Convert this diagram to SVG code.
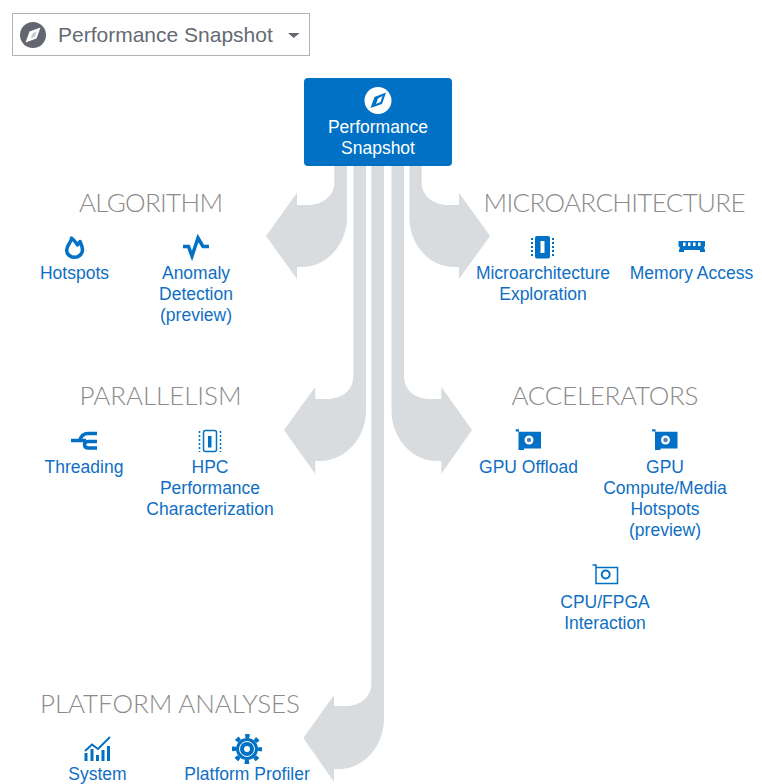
<svg xmlns="http://www.w3.org/2000/svg" width="762" height="784" viewBox="0 0 762 784">
<style>
text{font-family:"Liberation Sans",Arial,sans-serif}
.l{font-size:17.500px;fill:#0f6fc4;text-anchor:middle}
.h{font-family:Lato,"Liberation Sans",sans-serif;font-weight:300;font-size:26px;fill:#8b8b8b;text-anchor:middle}
.a{fill:#d9dcdf}
.i{fill:#0071c5}
.s{fill:none;stroke:#0071c5}
</style>
<defs>
<g id="card"><path class="i" d="M-13.300-10.700H-10V-8.300H12V8.500H-5V10H-10.500V-8.500H-13.300Z"/><circle cx="0" cy="0" r="4.500" fill="#fff"/><circle cx="0" cy="0" r="2.200" fill="#4a86c0"/></g>
</defs>
<rect x="12.500" y="13.500" width="297" height="42" fill="#fff" stroke="#b3b3b3"/>
<g id="dropdown"><circle cx="33" cy="35" r="13" fill="#63666e"/><path d="M40.500 27.500 36.500 38.500 25.500 42.500 29.500 31.500Z" fill="#fff"/><path d="M37 31 32.500 33.500 30.500 39 35 36.500Z" fill="#63666e" opacity=".35"/><text x="58" y="42" font-size="21" fill="#646a73">Performance Snapshot</text><path d="M288 33h11.500l-5.750 5Z" fill="#63666e"/></g>
<g id="connectors">
<path class="a" d="M334.300 166V183C334.300 196 322 205 308 205H297V192.700L266 236 297 279V267H302C328 267 347 243 347 217V166Z"/>
<path class="a" d="M421.700 166V183C421.700 196 434 205 448 205H459V192.700L490 236 459 279V267H454C428 267 409.300 243 409.300 217V166Z"/>
<path class="a" d="M353.300 166V376C353.300 390 342 399 327 399H315.300V386.700L284 430 315.300 474V461H320C346 461 366 437 366 411V166Z"/>
<path class="a" d="M404 166V376C404 390 415 399 430 399H441.300V386.700L472 430 441.300 474V461H437C411 461 391.500 437 391.500 411V166Z"/>
<path class="a" d="M371.300 166V684C371.300 697 360 706 346 706H334V695L303.300 738 334 782V769H339C365 769 384 745 384 719V166Z"/>
</g>
<g id="root"><rect x="304" y="78" width="148" height="88" rx="4" fill="#0071c5"/><circle cx="378" cy="100.500" r="13.500" fill="#fff"/><path d="M386 92.500 382 104 370.500 108 374.500 97Z" fill="#0071c5"/><path d="M382.500 96 378 98.500 376 104 380.500 102Z" fill="#fff"/><text x="378" y="132.500" class="l" style="fill:#fff">Performance</text><text x="378" y="153.500" class="l" style="fill:#fff">Snapshot</text></g>

<g id="algorithm"><text x="151" y="212" class="h" textLength="144">ALGORITHM</text></g>
<g id="hotspots"><path class="s" stroke-width="3.500" stroke-linejoin="round" d="M71.500 238C72 242 67 244 66.700 250C66.500 254 70 257.300 74.500 257.300C79 257.300 82.500 254 82.500 250C82.500 246 81 244 80 241.500L77.500 245C76 242 74 240 71.500 238Z"/><text x="74.500" y="279" class="l">Hotspots</text></g>
<g id="anomaly"><path class="s" stroke-width="3.500" d="M183 246.500H188.500L192 256L198 238L203 246.500H209"/><text x="196" y="279" class="l">Anomaly</text><text x="196" y="300" class="l">Detection</text><text x="196" y="321" class="l">(preview)</text></g>

<g id="microarchitecture"><text x="614.500" y="212" class="h" textLength="262">MICROARCHITECTURE</text></g>
<g id="uarch"><rect x="535" y="236" width="15" height="22.500" rx="2" class="i"/><rect x="540.500" y="241" width="4" height="12" fill="#fff"/><path class="s" stroke-width="2" stroke-dasharray="2 2" d="M532 238V257M553 238V257"/><text x="543" y="279" class="l">Microarchitecture</text><text x="543" y="300" class="l">Exploration</text></g>
<g id="memory"><path class="i" d="M678.500 241H705V246L704 248L705 250V252H700V250H684V252H679V250L680 248L678.500 246Z"/><path fill="#fff" d="M683 242.500h2.500v3.500h-2.500zM688 242.500h2.500v3.500h-2.500zM693 242.500h2.500v3.500h-2.500zM698 242.500h2.500v3.500h-2.500z"/><text x="691.500" y="279" class="l">Memory Access</text></g>

<g id="parallelism"><text x="160.500" y="405" class="h" textLength="162">PARALLELISM</text></g>
<g id="threading"><path class="s" stroke-width="3.500" d="M71 440.500H79.500C81 436 84 433.500 88 433.500H97M79 440.500H86M97 441.500H88.500C86 441.500 84.500 443 84.500 444.500C84.500 446.500 86 448 88.500 448H97"/><text x="84" y="473" class="l">Threading</text></g>
<g id="hpc"><rect x="203.500" y="430.500" width="13" height="21" rx="2" class="s" stroke-width="1.500"/><rect x="208" y="436" width="3.500" height="11.500" class="i"/><path class="s" stroke-width="1.500" stroke-dasharray="2 2" d="M199.500 431V452M220.500 431V452"/><text x="210" y="473" class="l">HPC</text><text x="210" y="494" class="l">Performance</text><text x="210" y="515" class="l">Characterization</text></g>

<g id="accelerators"><text x="605" y="405" class="h" textLength="187">ACCELERATORS</text></g>
<use id="gpu-icon-1" href="#card" x="529" y="440"/>
<g id="gpu-offload"><text x="528.500" y="473" class="l">GPU Offload</text></g>
<use id="gpu-icon-2" href="#card" x="665.500" y="440"/>
<g id="gpu-compute"><text x="665" y="473" class="l">GPU</text><text x="665" y="494" class="l">Compute/Media</text><text x="665" y="515" class="l">Hotspots</text><text x="665" y="536" class="l">(preview)</text></g>
<g id="fpga"><path class="s" stroke-width="1.500" d="M592.500 565H596V567.500H617.500V583.500H596V565"/><circle cx="605.700" cy="574.500" r="4" class="s" stroke-width="2"/><text x="605" y="607.500" class="l">CPU/FPGA</text><text x="605" y="628.500" class="l">Interaction</text></g>

<g id="platform"><text x="170" y="713" class="h" textLength="260">PLATFORM ANALYSES</text></g>
<g id="system"><path class="i" d="M84.500 753h3v8h-3zM90.500 749h3v12h-3zM96 755h3v6h-3zM101.500 750h3v11h-3zM107 746h3v15h-3z"/><path class="s" stroke-width="2" d="M85 751L92 744.500L98 749L110 737"/><text x="97.500" y="780" class="l">System</text></g>
<g id="profiler"><circle cx="247" cy="749" r="11" class="i"/><circle cx="247" cy="749" r="13" fill="none" stroke="#0071c5" stroke-width="4" stroke-dasharray="4.500 5.710" stroke-dashoffset="2.250"/><circle cx="247" cy="749" r="7.500" fill="none" stroke="#fff" stroke-width="1"/><circle cx="247" cy="749" r="3" fill="#fff"/><text x="247" y="780" class="l">Platform Profiler</text></g>
</svg>
